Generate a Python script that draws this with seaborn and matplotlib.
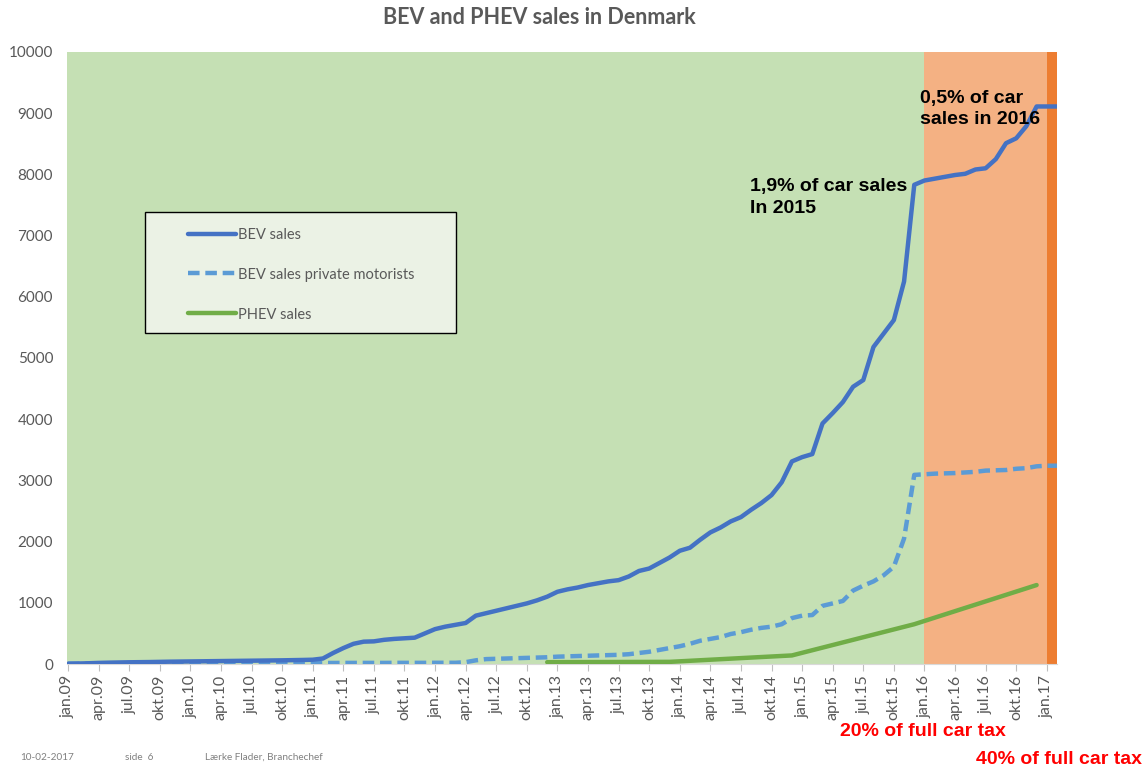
import pandas as pd
import seaborn as sns
import matplotlib.pyplot as plt
from matplotlib.patches import Rectangle
from matplotlib.lines import Line2D

#data
month_names = ['jan', 'feb', 'mar', 'apr', 'maj', 'jun', 'jul', 'aug', 'sep', 'okt', 'nov', 'dec']
months = [f'{m}.{y:02d}' for y in range(9, 18) for m in month_names][:98]

bev_sales = [5, 8, 12, 18, 22, 25, 28, 30, 32, 35, 38, 40,
             42, 44, 46, 48, 50, 52, 54, 56, 58, 60, 63, 66,
             70, 90, 180, 260, 330, 365, 370, 395, 410, 420, 430, 500,
             570, 610, 640, 670, 790, 830, 870, 910, 950, 990, 1040, 1100,
             1180, 1220, 1250, 1290, 1320, 1350, 1370, 1430, 1520, 1560, 1650, 1740,
             1850, 1900, 2030, 2150, 2230, 2330, 2400, 2520, 2630, 2760, 2970, 3310,
             3380, 3430, 3930, 4100, 4280, 4530, 4640, 5180, 5400, 5620, 6250, 7830,
             7900, 7930, 7960, 7990, 8010, 8080, 8100, 8250, 8510, 8590, 8790, 9110,
             9110, 9110]

bev_private = [5, 6, 8, 9, 10, 11, 12, 12, 13, 13, 14, 14,
               15, 15, 15, 15, 15, 16, 16, 16, 16, 16, 17, 17,
               17, 17, 17, 18, 18, 18, 18, 18, 19, 19, 19, 19,
               20, 20, 20, 30, 60, 80, 85, 90, 95, 100, 105, 110,
               120, 125, 130, 135, 140, 145, 150, 160, 180, 200, 230, 260,
               290, 330, 380, 410, 440, 490, 520, 560, 590, 610, 650, 750,
               790, 800, 950, 990, 1030, 1200, 1280, 1350, 1450, 1590, 2050, 3090,
               3100, 3110, 3115, 3120, 3130, 3140, 3160, 3165, 3170, 3190, 3200, 3230,
               3240, 3240]

phev_months = ['dec.12', 'dec.13', 'dec.14', 'dec.15', 'dec.16']
phev_sales = [30, 35, 140, 650, 1290]

tax_20_start = 'jan.16'
tax_40_start = 'jan.17'

df_bev = pd.DataFrame({'idx': range(len(months)), 'sales': bev_sales})
df_priv = pd.DataFrame({'idx': range(len(months)), 'sales': bev_private})
df_phev = pd.DataFrame({'idx': [months.index(m) for m in phev_months], 'sales': phev_sales})

sns.set_style('white')
plt.rcParams['font.family'] = ['Lato', 'DejaVu Sans']

fig = plt.figure(figsize=(11.42, 7.72), dpi=100)
ax = fig.add_axes([67 / 1142, 1 - 664 / 772, 990 / 1142, 612 / 772])

x16 = months.index(tax_20_start)
x17 = months.index(tax_40_start)
ax.axvspan(-0.1, x16, color='#C5E0B4', lw=0, zorder=0)
ax.axvspan(x16, x17, color='#F4B183', lw=0, zorder=0)
ax.axvspan(x17, len(months) - 1, color='#ED7D31', lw=0, zorder=0)

sns.lineplot(data=df_priv, x='idx', y='sales', ax=ax, color='#5B9BD5', lw=3.2,
             linestyle=(0, (2.6, 1.3)), zorder=3)
sns.lineplot(data=df_phev, x='idx', y='sales', ax=ax, color='#70AD47', lw=3.2, zorder=3)
sns.lineplot(data=df_bev, x='idx', y='sales', ax=ax, color='#4472C4', lw=3.2, zorder=4)

ax.set_xlim(-0.1, len(months) - 1)
ax.set_ylim(0, 10000)
ax.set_xlabel('')
ax.set_ylabel('')
ax.set_xticks(range(0, len(months), 3))
ax.set_xticklabels(months[::3], rotation=90)
ax.set_yticks(range(0, 10001, 1000))
ax.tick_params(axis='x', length=5, color='#BFBFBF', labelcolor='#595959', labelsize=11.5, pad=3, bottom=True)
ax.tick_params(axis='y', length=0, labelcolor='#595959', labelsize=11, pad=10)
for s in ['top', 'right', 'left']:
    ax.spines[s].set_visible(False)
ax.spines['bottom'].set_color('#D9D9D9')

#legend box
ax.add_patch(Rectangle((0.0788, 0.5408), 0.3141, 0.1977, transform=ax.transAxes,
                       facecolor='#EBF2E5', edgecolor='black', lw=1, zorder=5))
handles = [Line2D([], [], color='#4472C4', lw=3.2),
           Line2D([], [], color='#5B9BD5', lw=3.2, linestyle=(0, (2.6, 1.3))),
           Line2D([], [], color='#70AD47', lw=3.2)]
leg = ax.legend(handles, ['BEV sales', 'BEV sales private motorists', 'PHEV sales'],
                loc='upper left', bbox_to_anchor=(0.122, 0.713), frameon=False,
                borderpad=0, borderaxespad=0, handlelength=3.3, handletextpad=0.15,
                labelspacing=1.78, fontsize=10.5, labelcolor='#595959')
leg.set_zorder(6)

#annotations
ax.text(750 / 1142, 1 - 178 / 772, '1,9% of car sales\nIn 2015', transform=fig.transFigure,
        family=['Liberation Sans', 'DejaVu Sans'], weight='bold', size=14, color='black',
        va='top', ha='left', linespacing=1.42, zorder=7)
ax.text(920 / 1142, 1 - 90 / 772, '0,5% of car\nsales in 2016', transform=fig.transFigure,
        family=['Liberation Sans', 'DejaVu Sans'], weight='bold', size=14, color='black',
        va='top', ha='left', linespacing=1.32, zorder=7)

fig.text(539 / 1142, 1 - 17 / 772, 'BEV and PHEV sales in Denmark', ha='center', va='center',
         size=15.5, weight='bold', color='#595959')
fig.text(923 / 1142, 1 - 731 / 772, '20% of full car tax', ha='center', va='center',
         family=['Liberation Sans', 'DejaVu Sans'], weight='bold', size=14, color='#FF0000')
fig.text(1059 / 1142, 1 - 759 / 772, '40% of full car tax', ha='center', va='center',
         family=['Liberation Sans', 'DejaVu Sans'], weight='bold', size=14, color='#FF0000')

#footer
fig.text(20 / 1142, 1 - 757 / 772, '10-02-2017', size=7.2, color='#808080', va='center')
fig.text(125 / 1142, 1 - 757 / 772, 'side  6', size=7.2, color='#808080', va='center')
fig.text(205 / 1142, 1 - 757 / 772, 'Lærke Flader, Branchechef', size=7.2, color='#808080', va='center')

fig.savefig('out.png', dpi=100)
